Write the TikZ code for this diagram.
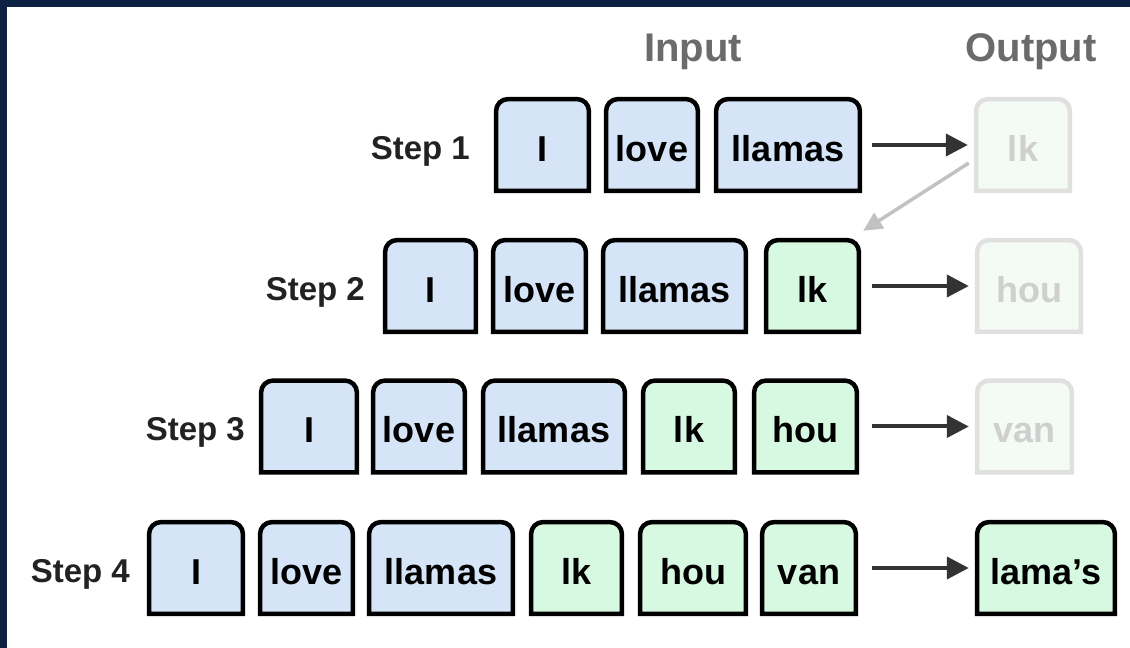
\documentclass[tikz,border=0pt]{standalone}
\usepackage{fontspec}
\setmainfont{Liberation Sans}
\usetikzlibrary{arrows.meta,backgrounds}
\definecolor{navy}{HTML}{0D2142}
\definecolor{tokblue}{HTML}{D5E5F7}
\definecolor{tokgreen}{HTML}{D7F8E1}
\definecolor{fadefill}{HTML}{F3FBF4}
\definecolor{fadeline}{HTML}{E0E0E0}
\definecolor{fadetext}{HTML}{CFCFCF}
\definecolor{hdr}{HTML}{6B6B6B}
\definecolor{arr}{HTML}{333333}
\definecolor{steptext}{HTML}{222222}
\newcommand\tokshape[3]{%
  \filldraw[line width=4.5pt, fill=#2, draw=#3]
    (#1.south west) -- ([yshift=-12pt]#1.north west)
    arc[start angle=180,end angle=90,radius=12pt]
    -- ([xshift=-12pt]#1.north east)
    arc[start angle=90,end angle=0,radius=12pt]
    -- (#1.south east) -- cycle;}
\begin{document}
\begin{tikzpicture}[x=1pt,y=1pt,
  tok/.style={minimum height=91.5pt, inner sep=0pt, text height=33pt, text depth=0pt,
    font=\fontsize{36}{36}\selectfont\bfseries, text=black},
  fadetok/.style={tok, text=fadetext},
  steplabel/.style={anchor=base east, inner sep=0pt, font=\fontsize{33}{33}\selectfont\bfseries, text=steptext},
  header/.style={anchor=base, inner sep=0pt, font=\fontsize{40}{40}\selectfont\bfseries, text=hdr},
  flow/.style={line width=4pt, draw=arr, -{Triangle[length=22pt,width=22pt]}},
  feedback/.style={line width=3.5pt, draw=black!24, -{Triangle[length=19pt,width=18pt]}}]
\useasboundingbox (0,0) rectangle (1130,648);

% headers
\node[header] (hin) at (693,586) {Input};
\node[header] (hout) at (1031,586) {Output};

% row 1
\node[steplabel] (s1) at (470,488) {Step 1};
\node[tok, minimum width=92.5pt] (a1) at (542.5,503) {I};
\node[tok, minimum width=91.5pt] (b1) at (652,503) {love};
\node[tok, minimum width=143.5pt] (c1) at (788,503) {llamas};
\node[fadetok, minimum width=93.5pt] (o1) at (1023,503) {lk};

% row 2
\node[steplabel] (s2) at (365,347) {Step 2};
\node[tok, minimum width=90.5pt] (a2) at (430.5,362) {I};
\node[tok, minimum width=92.5pt] (b2) at (539.5,362) {love};
\node[tok, minimum width=142.5pt] (c2) at (674.5,362) {llamas};
\node[tok, minimum width=92.5pt] (d2) at (812.5,362) {lk};
\node[fadetok, minimum width=103.5pt] (o2) at (1029,362) {hou};

% row 3
\node[steplabel] (s3) at (245,207) {Step 3};
\node[tok, minimum width=95.5pt] (a3) at (309,221.5) {I};
\node[tok, minimum width=91.5pt] (b3) at (419,221.5) {love};
\node[tok, minimum width=141.5pt] (c3) at (554,221.5) {llamas};
\node[tok, minimum width=91.5pt] (d3) at (689,221.5) {lk};
\node[tok, minimum width=102.5pt] (e3) at (805.5,221.5) {hou};
\node[fadetok, minimum width=94.5pt] (o3) at (1024.5,221.5) {van};

% row 4
\node[steplabel] (s4) at (130,65) {Step 4};
\node[tok, minimum width=93.5pt] (a4) at (196,80) {I};
\node[tok, minimum width=92.5pt] (b4) at (306.5,80) {love};
\node[tok, minimum width=143.5pt] (c4) at (441,80) {llamas};
\node[tok, minimum width=90.5pt] (d4) at (576.5,80) {lk};
\node[tok, minimum width=105.5pt] (e4) at (693,80) {hou};
\node[tok, minimum width=93.5pt] (f4) at (809,80) {van};
\node[tok, minimum width=137.5pt] (o4) at (1046,80) {lama’s};

% arrows
\draw[flow, shorten <=12.25pt, shorten >=8.25pt] (c1.east) -- (o1.west);
\draw[flow, shorten <=13.25pt, shorten >=8.25pt] (d2.east) -- (o2.west);
\draw[flow, shorten <=15.25pt, shorten >=8.25pt] (e3.east) -- (o3.west);
\draw[flow, shorten <=16.25pt, shorten >=8.25pt] (f4.east) -- (o4.west);
\draw[feedback] ([xshift=-7.25pt,yshift=-18pt]o1.west) -- ([xshift=4.25pt,yshift=9.25pt]d2.north east);

\begin{pgfonlayer}{background}
  \fill[white] (0,0) rectangle (1130,648);
  \fill[navy] (0,0) rectangle (7,648);
  \fill[navy] (0,641) rectangle (1130,648);
  \foreach \n in {a1,b1,c1,a2,b2,c2,a3,b3,c3,a4,b4,c4} {\tokshape{\n}{tokblue}{black}}
  \foreach \n in {d2,d3,e3,d4,e4,f4,o4} {\tokshape{\n}{tokgreen}{black}}
  \foreach \n in {o1,o2,o3} {\tokshape{\n}{fadefill}{fadeline}}
\end{pgfonlayer}
\end{tikzpicture}
\end{document}
